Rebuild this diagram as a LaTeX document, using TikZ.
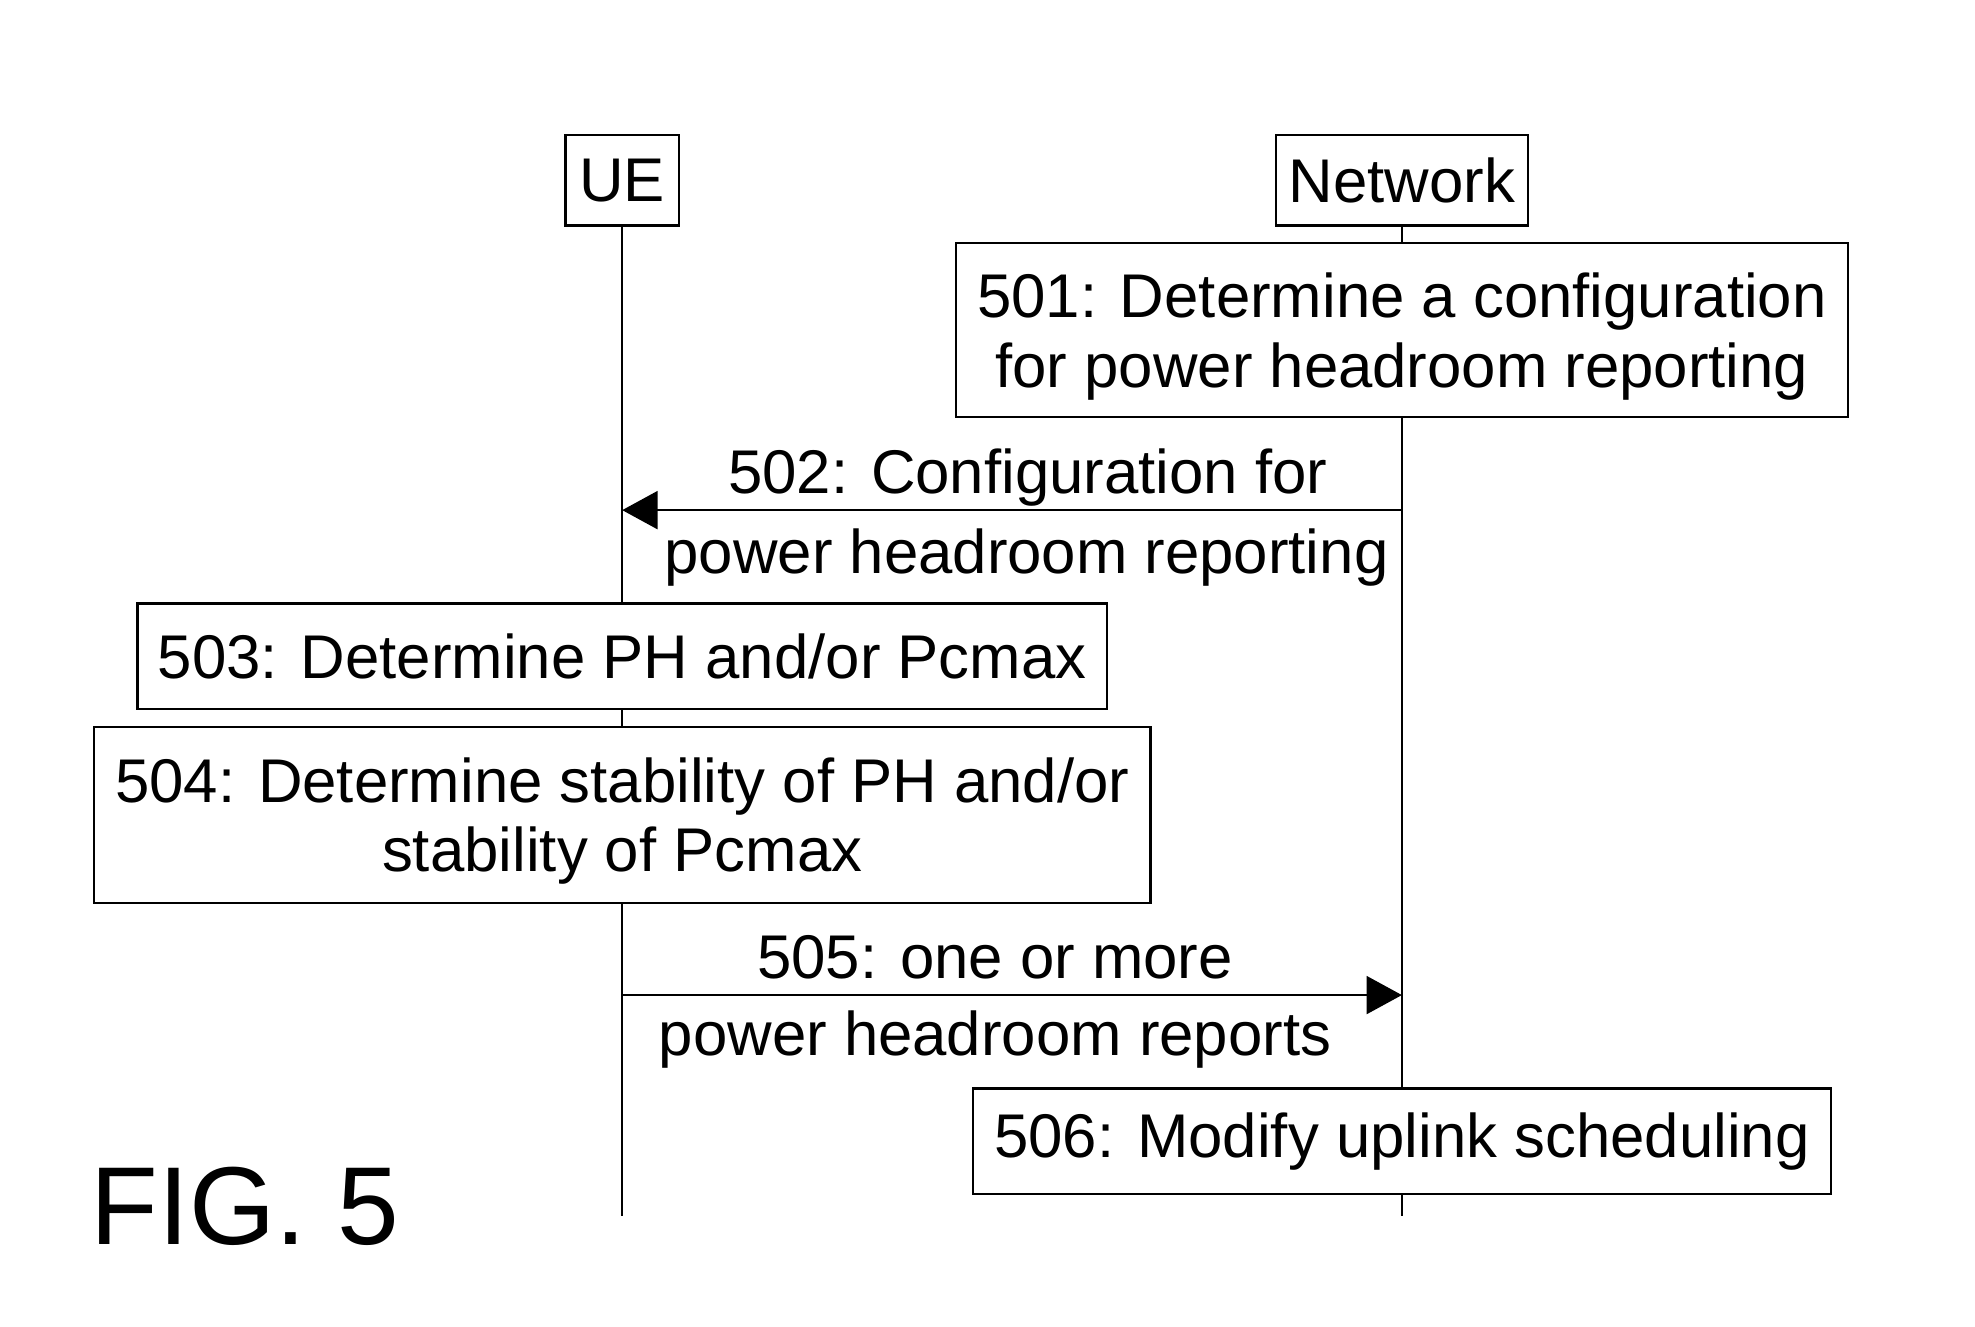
\documentclass[tikz,border=0pt]{standalone}
\usepackage{fontspec}
\setmainfont{Liberation Sans}
\usetikzlibrary{arrows.meta,backgrounds,positioning,calc}

\tikzset{
  actor/.style={draw, line width=2pt, fill=white, inner sep=0pt,
    font=\fontsize{49}{56}\selectfont},
  stepbox/.style={draw, line width=2pt, fill=white, inner sep=0pt, align=center,
    font=\fontsize{49}{55}\selectfont},
  twoline/.style={text depth=-4pt},
  msglabel/.style={anchor=base, inner sep=0pt, font=\fontsize{49}{56}\selectfont},
  msg/.style={line width=2pt, -{Triangle[length=28pt,width=30pt]}},
  lifeline/.style={line width=1.5pt},
}

\begin{document}
\begin{tikzpicture}[x=1pt,y=-1pt]
      \useasboundingbox (0,0) rectangle (1568,1053);

      \node[actor, minimum width=90pt, minimum height=72pt] (ue) at (494,143) {UE} ;
      \node[actor, minimum width=200pt, minimum height=72pt] (net) at (1113,143) {Network} ;

      \coordinate (ueend) at (494,965) ;
      \coordinate (netend) at (1113,965) ;

      \node[stepbox, twoline, minimum width=708pt, minimum height=138pt] (s501) at (1113,262)
        {501: Determine a configuration\\for power headroom reporting} ;
      \node[stepbox, minimum width=770pt, minimum height=84pt] (s503) at (494,521)
        {503: Determine PH and/or Pcmax} ;
      \node[stepbox, twoline, minimum width=839pt, minimum height=140pt] (s504) at (494,647)
        {504: Determine stability of PH and/or\\stability of Pcmax} ;
      \node[stepbox, minimum width=681pt, minimum height=84pt] (s506) at (1113,906)
        {506: Modify uplink scheduling} ;

      \begin{pgfonlayer}{background}
        \path[lifeline]
        (ue) edge (ueend)
        (net) edge (netend) ;
      \end{pgfonlayer}

      \coordinate (net502) at (1113,405) ;
      \coordinate (ue502) at (494,405) ;
      \coordinate (ue505) at (494,790) ;
      \coordinate (net505) at (1113,790) ;

      \path[msg]
      (net502) edge (ue502)
      (ue505) edge (net505) ;

      \node[msglabel] (l502a) at (816,392) {502: Configuration for} ;
      \node[msglabel] (l502b) at (815,455) {power headroom reporting} ;
      \node[msglabel] (l505a) at (790,777) {505: one or more} ;
      \node[msglabel] (l505b) at (790,838) {power headroom reports} ;

      \node[anchor=base west, inner sep=0pt, font=\fontsize{88}{100}\selectfont] (fig) at (72,988) {FIG. 5} ;

\end{tikzpicture}
\end{document}
